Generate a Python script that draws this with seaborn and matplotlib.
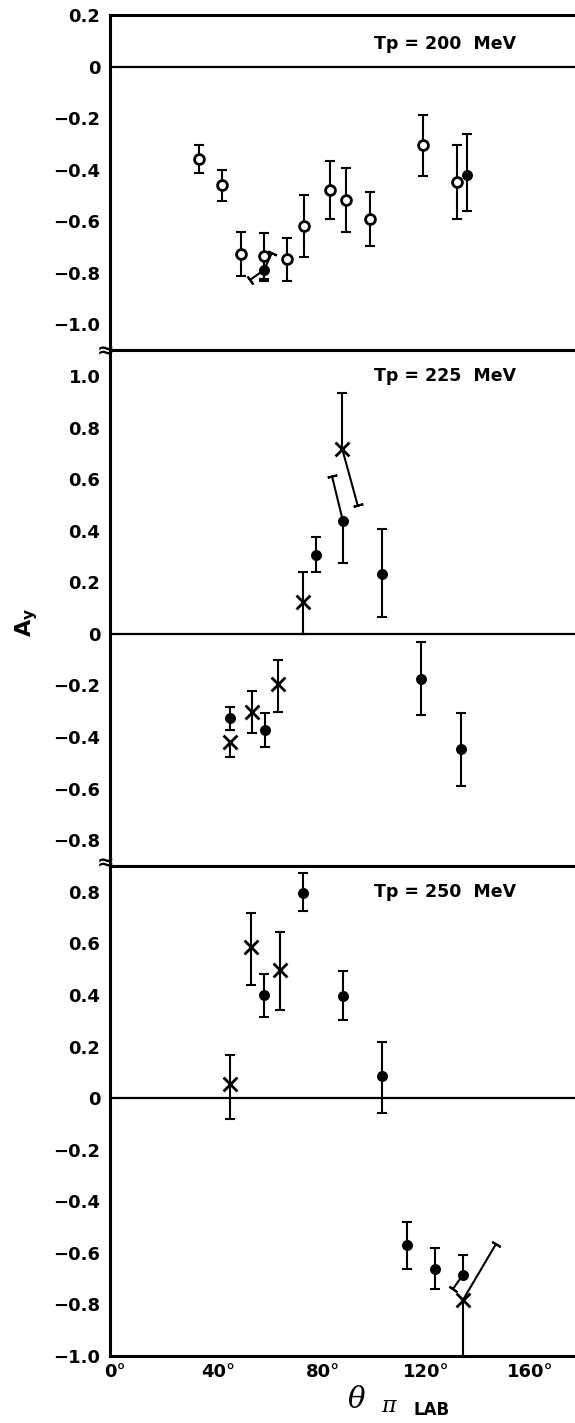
import matplotlib

matplotlib.use("Agg")

import matplotlib.pyplot as plt
import matplotlib.transforms as mtransforms
import numpy as np
import seaborn as sns

# ---- Tp = 200 MeV ----
T200_OPEN_X = [34.5, 43.1, 50.5, 59.4, 68.2, 74.7, 84.6, 91.1, 100.0, 120.4, 133.5]
T200_OPEN_Y = [-0.358, -0.461, -0.726, -0.734, -0.747, -0.617, -0.479, -0.518, -0.590, -0.306, -0.448]
T200_OPEN_ERR = [0.053, 0.060, 0.085, 0.090, 0.083, 0.120, 0.113, 0.123, 0.104, 0.120, 0.142]
T200_DOT_X = [59.5, 137.3]
T200_DOT_Y = [-0.788, -0.422]
T200_DOT_LO = [0.045, 0.137]
T200_DOT_HI = [0.045, 0.160]
# tilted error bars: (x, y, x_end, y_end)
T200_TILT = [(59.5, -0.788, 54.1, -0.827), (59.5, -0.788, 62.4, -0.723)]

# ---- Tp = 225 MeV ----
T225_DOT_X = [46.4, 59.8, 79.5, 89.8, 104.6, 119.8, 135.1]
T225_DOT_Y = [-0.326, -0.371, 0.307, 0.436, 0.233, -0.174, -0.446]
T225_DOT_LO = [0.045, 0.069, 0.068, 0.160, 0.166, 0.139, 0.145]
T225_DOT_HI = [0.044, 0.063, 0.069, 0.0, 0.172, 0.142, 0.141]
T225_X_X = [46.4, 54.7, 64.9, 74.3, 89.5]
T225_X_Y = [-0.420, -0.304, -0.194, 0.122, 0.717]
T225_X_LO = [0.056, 0.082, 0.108, 0.122, 0.0]
T225_X_HI = [0.0, 0.084, 0.094, 0.120, 0.216]
T225_TILT = [(89.8, 0.436, 85.5, 0.614), (89.5, 0.717, 95.4, 0.500)]

# ---- Tp = 250 MeV ----
T250_DOT_X = [59.5, 74.4, 89.8, 104.9, 114.5, 125.2, 135.9]
T250_DOT_Y = [0.399, 0.797, 0.397, 0.085, -0.569, -0.663, -0.685]
T250_DOT_LO = [0.083, 0.071, 0.095, 0.143, 0.094, 0.079, 0.0]
T250_DOT_HI = [0.081, 0.077, 0.094, 0.134, 0.090, 0.083, 0.075]
T250_X_X = [46.5, 54.3, 65.4, 135.9]
T250_X_Y = [0.054, 0.586, 0.496, -0.783]
T250_X_LO = [0.135, 0.148, 0.154, 0.220]
T250_X_HI = [0.114, 0.130, 0.150, 0.0]
T250_TILT = [(135.9, -0.685, 132.1, -0.740), (135.9, -0.783, 148.6, -0.566)]

PANEL_LABELS = ["Tp = 200  MeV", "Tp = 225  MeV", "Tp = 250  MeV"]
PANEL_YLIM = [(-1.1, 0.2), (-0.9, 1.1), (-1.0, 0.9)]
PANEL_YTICKS = [(-1.0, 0.2), (-0.8, 1.0), (-1.0, 0.8)]
LABEL_Y = [0.088, 1.0, 0.80]
X_TICKS = [0, 20, 40, 60, 80, 100, 120, 140, 160]
X_TICK_LABELS = ["0°", "", "40°", "", "80°", "", "120°", "", "160°"]

LW = 1.5
CAP = 7


def fmt(v):
    if abs(v) < 1e-9:
        return "0"
    return f"{v:.1f}".replace("-", "\u2212")


def draw_bars(ax, x, y, lo, hi):
    x, y = np.asarray(x), np.asarray(y)
    lo, hi = np.asarray(lo), np.asarray(hi)
    ax.vlines(x, y - lo, y + hi, color="black", lw=LW, zorder=2)
    ex = np.concatenate([x[lo > 0], x[hi > 0]])
    ey = np.concatenate([(y - lo)[lo > 0], (y + hi)[hi > 0]])
    ax.plot(ex, ey, ls="none", marker="_", ms=CAP, mew=LW, color="black", zorder=2)


def draw_tilt(ax, x0, y0, x1, y1):
    ax.plot([x0, x1], [y0, y1], color="black", lw=LW, zorder=2, solid_capstyle="butt")
    p0 = ax.transData.transform((x0, y0))
    p1 = ax.transData.transform((x1, y1))
    ang = np.degrees(np.arctan2(p1[1] - p0[1], p1[0] - p0[0]))
    ax.plot([x1], [y1], ls="none", marker=(2, 2, ang), ms=CAP, mew=LW, color="black", zorder=2)


sns.set_style("white")
plt.rcParams["font.family"] = ["DejaVu Sans"]
plt.rcParams["text.color"] = "black"
plt.rcParams["xtick.color"] = "black"
plt.rcParams["ytick.color"] = "black"

fig = plt.figure(figsize=(5.75, 14.23), dpi=100)
gs = fig.add_gridspec(3, 1, height_ratios=[1.3, 2.0, 1.9], hspace=0,
                      left=109.5 / 575, right=1.0, top=1 - 15.0 / 1423, bottom=1 - 1356.0 / 1423)
axes = [fig.add_subplot(gs[i]) for i in range(3)]

for i, ax in enumerate(axes):
    ax.set_xlim(0, 179)
    ax.set_ylim(*PANEL_YLIM[i])
    lo_t, hi_t = PANEL_YTICKS[i]
    ticks = np.round(np.arange(lo_t, hi_t + 0.01, 0.2), 2)
    ax.set_yticks(ticks)
    ax.set_yticklabels([fmt(t) for t in ticks], fontweight="bold")
    ax.tick_params(axis="y", direction="in", length=5.5, width=1.5, pad=6.5, labelsize=13)
    for side in ["left", "top", "bottom"]:
        ax.spines[side].set_linewidth(2.2)
        ax.spines[side].set_color("black")
    ax.spines["right"].set_visible(False)
    ax.axhline(0, color="black", lw=1.6, zorder=1)
    ax.text(101.8, LABEL_Y[i], PANEL_LABELS[i], ha="left", va="center",
            fontsize=12.5, fontweight="bold")
    if i < 2:
        ax.tick_params(axis="x", bottom=False, labelbottom=False)

# Tp = 200 MeV
ax = axes[0]
draw_bars(ax, T200_OPEN_X, T200_OPEN_Y, T200_OPEN_ERR, T200_OPEN_ERR)
draw_bars(ax, T200_DOT_X, T200_DOT_Y, T200_DOT_LO, T200_DOT_HI)
for seg in T200_TILT:
    draw_tilt(ax, *seg)
sns.scatterplot(x=T200_DOT_X, y=T200_DOT_Y, marker="o", s=50, color="black",
                edgecolor="black", linewidth=0.8, ax=ax, zorder=3)
sns.scatterplot(x=T200_OPEN_X, y=T200_OPEN_Y, marker="o", s=50, color="white",
                edgecolor="black", linewidth=2.0, ax=ax, zorder=4)

# Tp = 225 MeV
ax = axes[1]
draw_bars(ax, T225_DOT_X, T225_DOT_Y, T225_DOT_LO, T225_DOT_HI)
draw_bars(ax, T225_X_X, T225_X_Y, T225_X_LO, T225_X_HI)
for seg in T225_TILT:
    draw_tilt(ax, *seg)
sns.scatterplot(x=T225_DOT_X, y=T225_DOT_Y, marker="o", s=50, color="black",
                edgecolor="black", linewidth=0.8, ax=ax, zorder=3)
sns.scatterplot(x=T225_X_X, y=T225_X_Y, marker="x", s=100, color="black",
                linewidth=2.0, ax=ax, zorder=3)

# Tp = 250 MeV
ax = axes[2]
draw_bars(ax, T250_DOT_X, T250_DOT_Y, T250_DOT_LO, T250_DOT_HI)
draw_bars(ax, T250_X_X, T250_X_Y, T250_X_LO, T250_X_HI)
for seg in T250_TILT:
    draw_tilt(ax, *seg)
sns.scatterplot(x=T250_DOT_X, y=T250_DOT_Y, marker="o", s=50, color="black",
                edgecolor="black", linewidth=0.8, ax=ax, zorder=3)
sns.scatterplot(x=T250_X_X, y=T250_X_Y, marker="x", s=100, color="black",
                linewidth=2.0, ax=ax, zorder=3)
ax.set_xticks(X_TICKS)
ax.set_xticklabels(X_TICK_LABELS, fontweight="bold")
ax.tick_params(axis="x", direction="in", length=8, width=1.5, pad=5, labelsize=13)
shift = mtransforms.ScaledTranslation(5 / 100, 0, fig.dpi_scale_trans)
for lab in ax.get_xticklabels():
    lab.set_transform(lab.get_transform() + shift)

# axis break marks on the left spine
for ypx in [351, 863]:
    fig.text(106 / 575, 1 - ypx / 1423, "\u2248", ha="center", va="center",
             fontsize=15, fontweight="bold")

# axis titles
fig.text(27 / 575, 1 - 622 / 1423, r"A$_\mathbf{y}$", rotation=90,
         ha="center", va="center", fontsize=16, fontweight="bold")
fig.text(356 / 575, 1 - 1400 / 1423, "\u03b8", family="DejaVu Serif", style="italic",
         ha="center", va="center", fontsize=21)
fig.text(389 / 575, 1 - 1406 / 1423, "\u03c0", family="DejaVu Serif", style="italic",
         ha="center", va="center", fontsize=16)
fig.text(432 / 575, 1 - 1410 / 1423, "LAB", ha="center", va="center",
         fontsize=12, fontweight="bold")

fig.savefig("out.png", dpi=100, facecolor="white")
